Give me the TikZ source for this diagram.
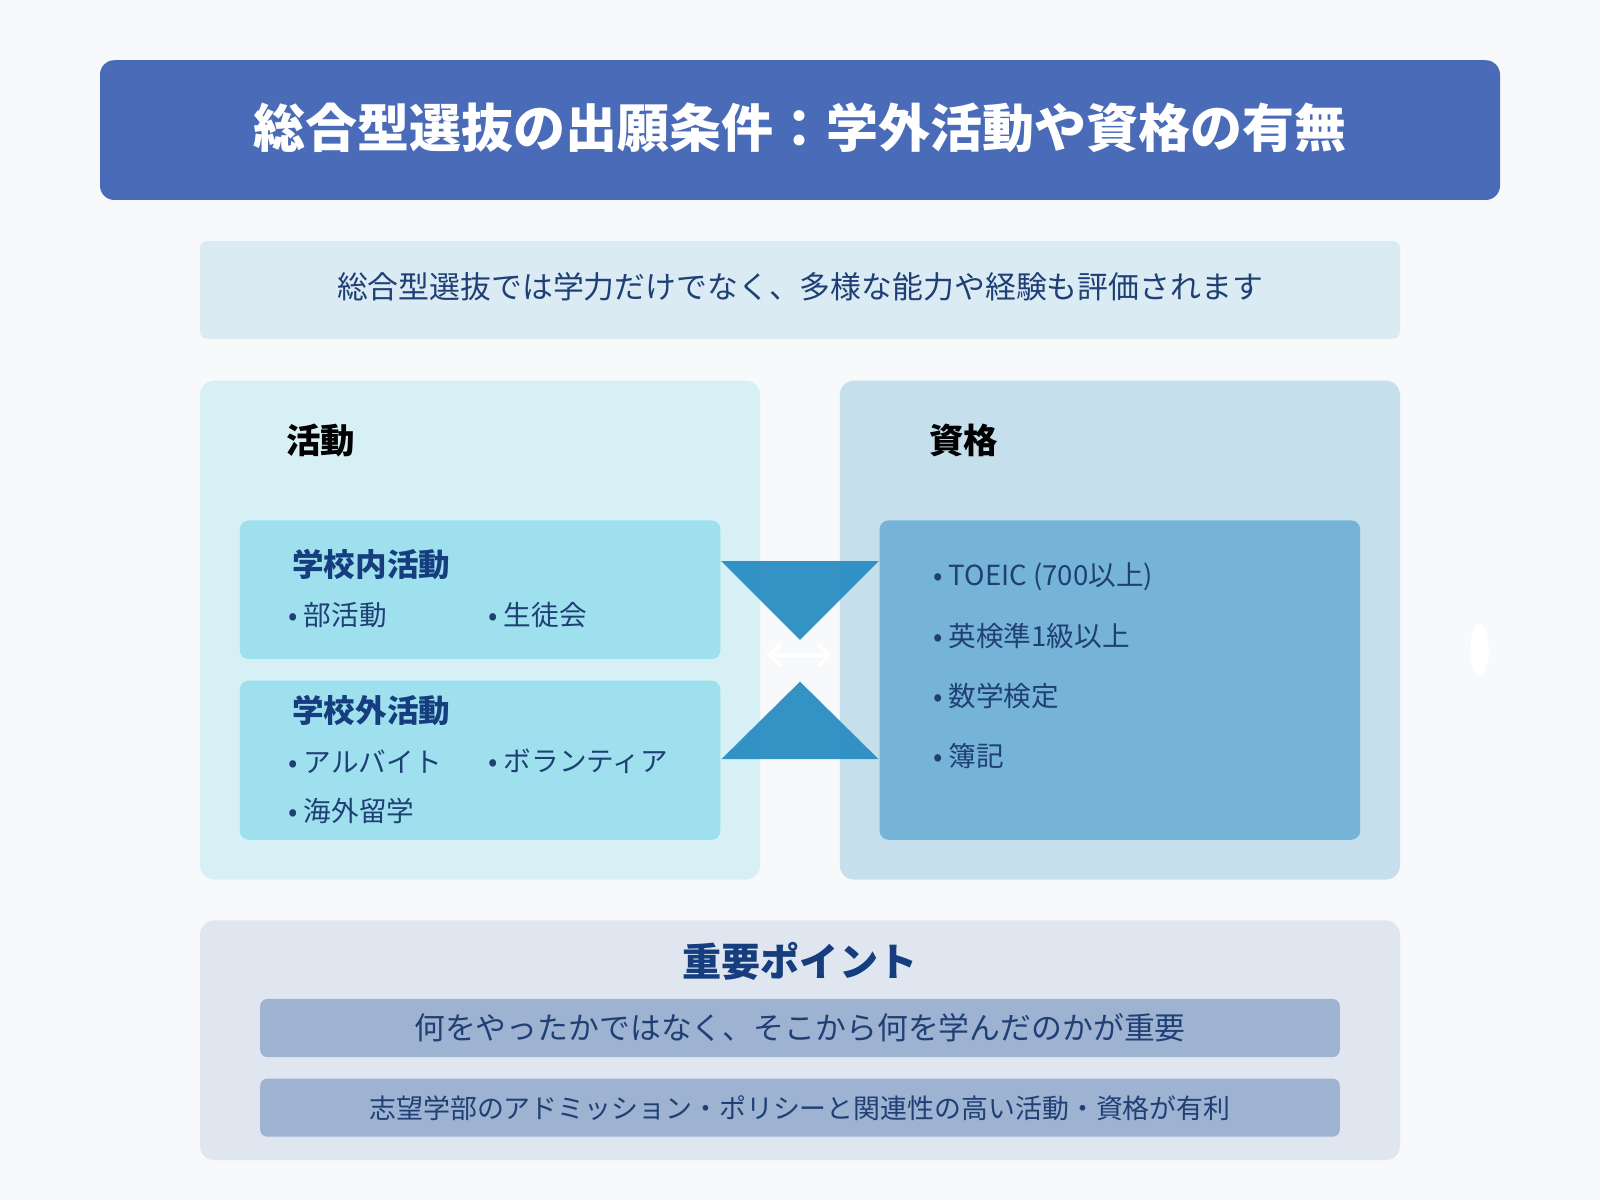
\documentclass[tikz,border=0pt]{standalone}
\usepackage{fontspec}
\setmainfont{Noto Sans CJK JP}
\usetikzlibrary{positioning,arrows.meta}
\definecolor{bgpage}{HTML}{F7F9FB}
\definecolor{titlebg}{HTML}{4A6CB8}
\definecolor{introbg}{HTML}{DAEBF4}
\definecolor{actbg}{HTML}{D7F0F6}
\definecolor{qualbg}{HTML}{C5DFEC}
\definecolor{actbox}{HTML}{9EE0EE}
\definecolor{qualbox}{HTML}{76B4D7}
\definecolor{ptbg}{HTML}{DFE6F0}
\definecolor{ptbox}{HTML}{9DB3D1}
\definecolor{navy}{HTML}{1F3F75}
\definecolor{deepnavy}{HTML}{163E7E}
\definecolor{tri}{HTML}{2A8DC3}

\begin{document}
\begin{tikzpicture}[x=0.01cm,y=-0.01cm,
	head/.style={font=\bfseries\fontsize{9.6}{11}\selectfont,anchor=west},
	sub/.style={font=\bfseries\fontsize{8.8}{10}\selectfont,text=deepnavy,anchor=west},
	item/.style={font=\fontsize{7.7}{9}\selectfont,text=navy,anchor=west}]
	\fill[bgpage] (0,0) rectangle (1568,1176);
	\useasboundingbox (0,0) rectangle (1568,1176);

	%% Title and intro
	\fill[titlebg,rounded corners=4pt] (98,59) rectangle (1470,196);
	\node[font=\bfseries\fontsize{14.5}{17}\selectfont,text=white] (title) at (784,125) {総合型選抜の出願条件：学外活動や資格の有無};
	\fill[introbg,rounded corners=2pt] (196,236) rectangle (1372,332);
	\node[font=\fontsize{8.6}{10}\selectfont,text=navy] (intro) at (784,281) {総合型選抜では学力だけでなく、多様な能力や経験も評価されます};

	%% Activities
	\fill[actbg,rounded corners=4pt] (196,373) rectangle (745,862);
	\node[head] (acthead) at (268,432) {活動};
	\fill[actbox,rounded corners=2.5pt] (235,510) rectangle (706,646);
	\node[sub] (inside) at (274,553) {学校内活動};
	\node[item] (club) at (270,603) {• 部活動};
	\node[item] (council) at (466,603) {• 生徒会};
	\fill[actbox,rounded corners=2.5pt] (235,667) rectangle (706,823);
	\node[sub] (outside) at (274,696) {学校外活動};
	\node[item] (job) at (270,746) {• アルバイト};
	\node[item] (volunteer) at (466,746) {• ボランティア};
	\node[item] (abroad) at (270,795) {• 海外留学};

	%% Qualifications
	\fill[qualbg,rounded corners=4pt] (823,373) rectangle (1372,862);
	\node[head] (qualhead) at (898,432) {資格};
	\fill[qualbox,rounded corners=2.5pt] (862,510) rectangle (1333,823);
	\node[item] (toeic) at (902,565) {• TOEIC (700以上)};
	\node[item] (eiken) at (902,623) {• 英検準1級以上};
	\node[item] (math) at (902,682) {• 数学検定};
	\node[item] (boki) at (902,741) {• 簿記};

	%% Link between panels
	\fill[tri,opacity=0.95] (707,550) -- (861,550) -- (784,627) -- cycle;
	\fill[tri,opacity=0.95] (707,744) -- (861,744) -- (784,668) -- cycle;
	\coordinate (la) at (752,642);
	\coordinate (lb) at (815,642);
	\draw[white,line width=1pt,{Straight Barb[length=3pt]}-{Straight Barb[length=3pt]}] (la) -- (lb);
	\fill[white] (1450,637) ellipse (9 and 26);

	%% Key points
	\fill[ptbg,rounded corners=4pt] (196,902) rectangle (1372,1137);
	\node[font=\bfseries\fontsize{10.9}{13}\selectfont,text=deepnavy] (pthead) at (784,942) {重要ポイント};
	\fill[ptbox,rounded corners=2pt] (255,979) rectangle (1313,1036);
	\node[font=\fontsize{8.6}{10}\selectfont,text=navy] (pt1) at (784,1007) {何をやったかではなく、そこから何を学んだのかが重要};
	\fill[ptbox,rounded corners=2pt] (255,1057) rectangle (1313,1114);
	\node[font=\fontsize{7.5}{9}\selectfont,text=navy] (pt2) at (784,1086) {志望学部のアドミッション・ポリシーと関連性の高い活動・資格が有利};
\end{tikzpicture}
\end{document}
